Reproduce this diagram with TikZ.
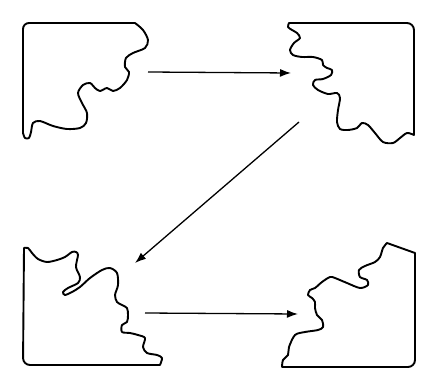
\documentclass[tikz,border=0pt]{standalone}
\usetikzlibrary{arrows.meta}
\begin{document}
\begin{tikzpicture}[x=1pt,y=-1pt,
  piece/.style={line width=1.9pt,line join=round,line cap=round},
  conn/.style={line width=1.3pt,-{Latex[length=11pt,width=8pt]}}]
\useasboundingbox (0,0) rectangle (430,390);
% top-left piece
\draw[piece] plot[smooth] coordinates {(135,23) (143,30) (148,40) (145,48) (133,53) (126,58) (125,67) (129,72) (127,80) (120,88) (113,91) (107,88) (100,91) (95,88) (90,83) (83,85) (78,93) (82,103) (87,113) (86,123) (80,128) (67,129) (53,126) (40,121) (33,123) (31,132) (29,138) (25,138) (23,133)}
  [rounded corners=6pt] -- (23,23) -- (135,23);
% top-right piece
\draw[piece] plot[smooth] coordinates {(414,135) (407,133) (400,138) (393,143) (383,142) (375,133) (368,125) (362,123) (357,128) (348,130) (340,129) (337,122) (338,110) (340,98) (337,93) (328,94) (318,90) (313,85) (315,80) (323,79) (331,75) (332,70) (327,68) (323,65) (322,60) (313,57) (302,57) (293,55) (290,50) (294,43) (300,38) (297,33) (292,30) (288,27) (289,23)}
  [rounded corners=7pt] -- (414,23) -- (414,135);
% bottom-left piece
\draw[piece] plot[smooth] coordinates {(160,365) (162,358) (157,355) (147,353) (143,347) (145,338) (138,335) (130,333) (122,332) (122,325) (127,322) (128,315) (127,308) (122,305) (117,302) (115,295) (118,285) (117,273) (110,268) (102,270) (90,278) (80,287) (72,292) (65,295) (63,292) (68,288) (78,283) (80,277) (76,267) (78,255) (76,252) (72,252) (65,257) (57,260) (47,262) (38,259) (32,253) (28,248) (24,248)}
  [rounded corners=7pt] -- (23,365) -- (160,365);
% bottom-right piece
\draw[piece] plot[smooth] coordinates {(282,367) (283,360) (288,355) (289,347) (295,335) (305,332) (318,330) (323,327) (322,320) (317,315) (315,308) (315,302) (312,298) (308,295) (310,290) (315,288) (322,282) (330,277) (335,278) (347,283) (360,288) (368,285) (367,280) (360,277) (359,270) (365,266) (375,262) (380,257) (383,248) (387,243)}
  -- (415,253) [rounded corners=7pt] -- (415,367) -- (282,367);
% connectors
\coordinate (a1) at (148,72);
\coordinate (a2) at (291,73);
\coordinate (d1) at (299,122);
\coordinate (d2) at (135,263);
\coordinate (b1) at (145,313);
\coordinate (b2) at (298,314);
\draw[conn] (a1) -- (a2);
\draw[conn] (d1) -- (d2);
\draw[conn] (b1) -- (b2);
\end{tikzpicture}
\end{document}
